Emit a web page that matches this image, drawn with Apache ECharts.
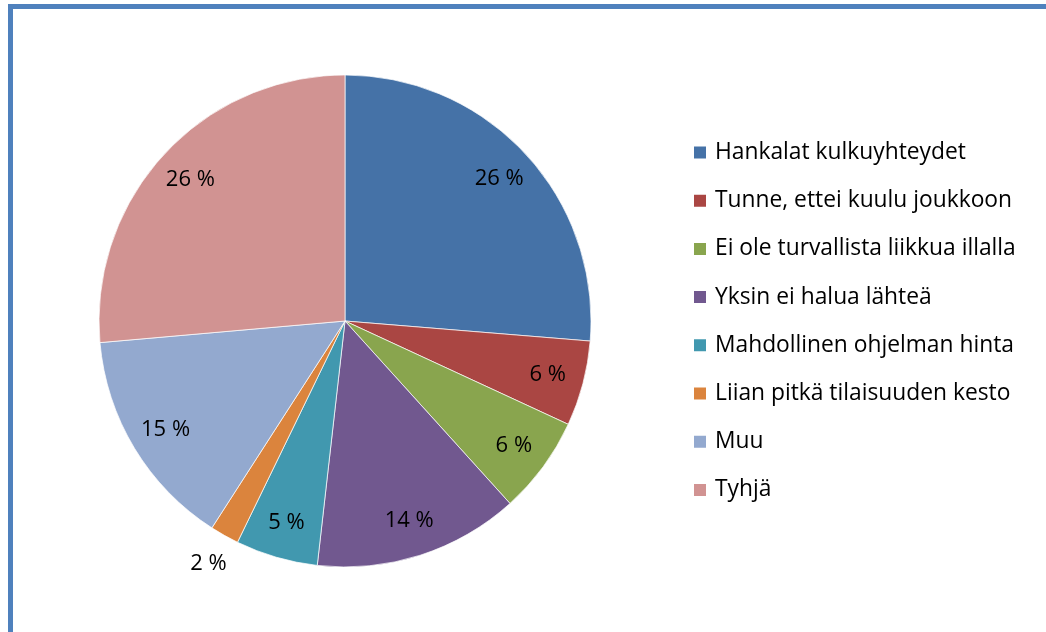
<!DOCTYPE html>
<html>
<head>
<meta charset="utf-8">
<script src="https://cdn.jsdelivr.net/npm/echarts@6/dist/echarts.min.js"></script>
<style>html,body{margin:0;padding:0;background:#fff}#c{width:1046px;height:632px}</style>
</head>
<body>
<div id="c"></div>
<script>
const categories = ['Hankalat kulkuyhteydet','Tunne, ettei kuulu joukkoon','Ei ole turvallista liikkua illalla','Yksin ei halua lähteä','Mahdollinen ohjelman hinta','Liian pitkä tilaisuuden kesto','Muu','Tyhjä'];
const values = [26.3, 5.6, 6.4, 13.5, 5.4, 1.9, 14.5, 26.4];
const colors = ['#4572A7','#AA4643','#89A54E','#71588F','#4198AF','#DB843D','#93A9CF','#D19392'];
const outsideLabel = [false,false,false,false,false,true,false,false];

const FONT = 'Open Sans';
const C = [345, 321], R = 246;
const data = categories.map((n,i)=>({name:n, value:values[i], itemStyle:{color:colors[i]}}));
const fmt = p => Math.round(p.percent) + ' %';
const chart = echarts.init(document.getElementById('c'));
chart.setOption({
  animation:false,
  color: colors,
  graphic:[{type:'rect', shape:{x:10.5, y:6.5, width:1200, height:800}, style:{fill:'none', stroke:'#4f81bd', lineWidth:5}, z:100}],
  legend:{
    orient:'vertical', left:692, top:141, padding:0, itemWidth:14, itemHeight:14, itemGap:25.2,
    icon:'rect', data:categories,
    textStyle:{fontFamily:FONT, fontSize:22.8, lineHeight:22, color:'#000', padding:[0,0,0,3]},
    selectedMode:false
  },
  series:[
    {type:'pie', center:C, radius:R, startAngle:90, clockwise:true, silent:true,
     data:data, label:{show:false}, labelLine:{show:false},
     itemStyle:{borderColor:'#fff', borderWidth:0.7}},
    {type:'pie', center:C, radius:[R*0.68, R], startAngle:90, clockwise:true, silent:true,
     legendHoverLink:false,
     data:categories.map((n,i)=>({name:n+' ', value:values[i], itemStyle:{color:'rgba(0,0,0,0)'},
       label:{show:!outsideLabel[i]}})),
     label:{position:'inside', formatter:fmt, fontFamily:FONT, fontSize:22, color:'#000'},
     labelLine:{show:false}},
    {type:'pie', center:C, radius:[R, R*1.24], startAngle:90, clockwise:true, silent:true,
     data:categories.map((n,i)=>({name:n+'  ', value:values[i], itemStyle:{color:'rgba(0,0,0,0)'},
       label:{show:outsideLabel[i]}})),
     label:{position:'inside', formatter:fmt, fontFamily:FONT, fontSize:22, color:'#000'},
     labelLine:{show:false}}
  ]
});
</script>
</body>
</html>
